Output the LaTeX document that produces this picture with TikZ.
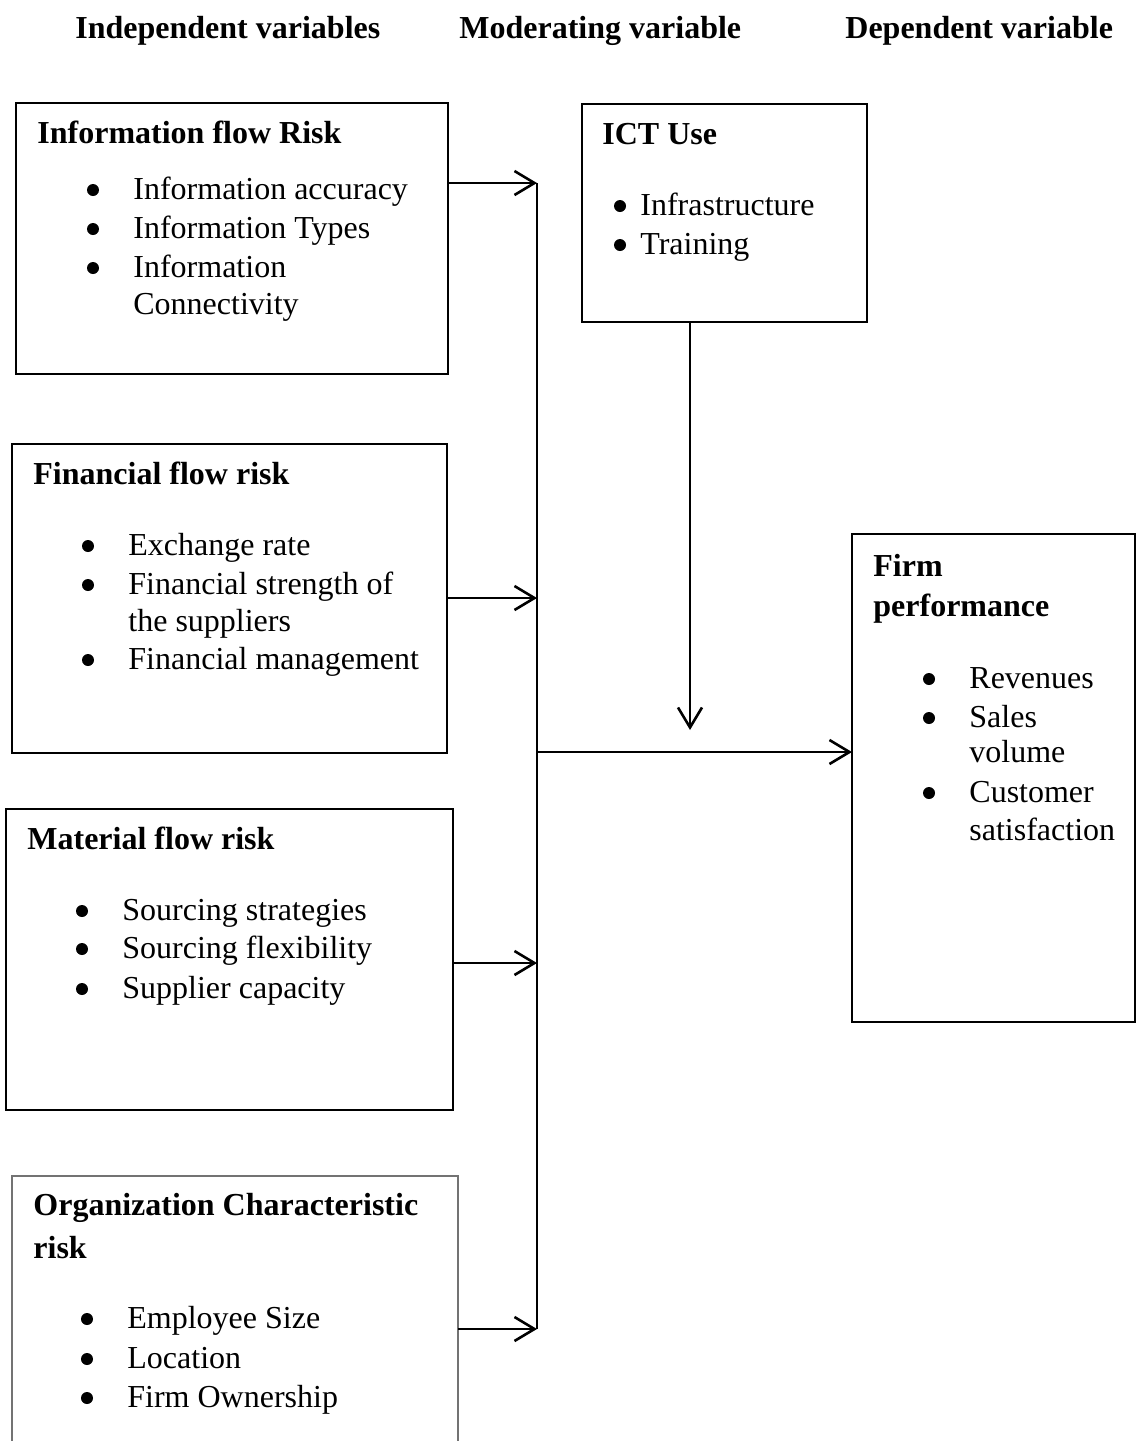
\documentclass[tikz,border=0pt]{standalone}
\usepackage{fontspec}
\setmainfont{Liberation Serif}
\usetikzlibrary{arrows.meta,fit}
\begin{document}
\begin{tikzpicture}[x=0.5pt,y=-0.5pt,
  box/.style={draw, line width=1pt, inner sep=0pt, outer sep=0pt},
  orgbox/.style={draw=black!55, line width=0.8pt, inner sep=0pt, outer sep=0pt},
  txt/.style={anchor=base west, inner sep=0pt, font=\fontsize{16}{19}\selectfont},
  ttl/.style={anchor=base west, inner sep=0pt, font=\fontsize{16}{19}\selectfont\bfseries},
  bul/.style={circle, fill=black, inner sep=0pt, minimum size=6pt, yshift=4.5pt},
  arr/.style={line width=1.3pt, -{Straight Barb[length=10pt,width=12pt,line width=1.3pt]}},
  bus/.style={line width=1.3pt}]
\useasboundingbox (0,0) rectangle (1136,1441);

% headers
\node[ttl] (h1) at (75,38) {Independent variables};
\node[ttl] (h2) at (459,38) {Moderating variable};
\node[ttl] (h3) at (845,38) {Dependent variable};

% boxes
\node[box, fit={(16,103) (448,374)}] (info) {};
\node[box, fit={(582,104) (867,322)}] (ict) {};
\node[box, fit={(12,444) (447,753)}] (fin) {};
\node[box, fit={(852,534) (1134.5,1022)}] (firm) {};
\node[box, fit={(6,809) (453,1110)}] (mat) {};
\node[orgbox, fit={(12,1176) (458,1520)}] (org) {};

% Information flow risk
\node[ttl] (infot) at (37,143) {Information flow Risk};
\node[bul] (infob1) at (93,199) {};
\node[txt] (infoi1) at (133,199) {Information accuracy};
\node[bul] (infob2) at (93,238) {};
\node[txt] (infoi2) at (133,238) {Information Types};
\node[bul] (infob3) at (93,277) {};
\node[txt] (infoi3) at (133,277) {Information};
\node[txt] (infoi3b) at (133,314) {Connectivity};

% ICT use
\node[ttl] (ictt) at (602,144) {ICT Use};
\node[bul] (ictb1) at (620,215) {};
\node[txt] (icti1) at (640,215) {Infrastructure};
\node[bul] (ictb2) at (620,254) {};
\node[txt] (icti2) at (640,254) {Training};

% Financial flow risk
\node[ttl] (fint) at (33,484) {Financial flow risk};
\node[bul] (finb1) at (88,555) {};
\node[txt] (fini1) at (128,555) {Exchange rate};
\node[bul] (finb2) at (88,594) {};
\node[txt] (fini2) at (128,594) {Financial strength of};
\node[txt] (fini2b) at (128,631) {the suppliers};
\node[bul] (finb3) at (88,669) {};
\node[txt] (fini3) at (128,669) {Financial management};

% Firm performance
\node[ttl] (firmt1) at (873,576) {Firm};
\node[ttl] (firmt2) at (873,616) {performance};
\node[bul] (firmb1) at (929,688) {};
\node[txt] (firmi1) at (969,688) {Revenues};
\node[bul] (firmb2) at (929,727) {};
\node[txt] (firmi2) at (969,727) {Sales};
\node[txt] (firmi2b) at (969,762) {volume};
\node[bul] (firmb3) at (929,802) {};
\node[txt] (firmi3) at (969,802) {Customer};
\node[txt] (firmi3b) at (969,840) {satisfaction};

% Material flow risk
\node[ttl] (matt) at (27,849) {Material flow risk};
\node[bul] (matb1) at (82,920) {};
\node[txt] (mati1) at (122,920) {Sourcing strategies};
\node[bul] (matb2) at (82,958) {};
\node[txt] (mati2) at (122,958) {Sourcing flexibility};
\node[bul] (matb3) at (82,998) {};
\node[txt] (mati3) at (122,998) {Supplier capacity};

% Organization characteristic risk
\node[ttl] (orgt1) at (33,1215) {Organization Characteristic};
\node[ttl] (orgt2) at (33,1258) {risk};
\node[bul] (orgb1) at (87,1328) {};
\node[txt] (orgi1) at (127,1328) {Employee Size};
\node[bul] (orgb2) at (87,1368) {};
\node[txt] (orgi2) at (127,1368) {Location};
\node[bul] (orgb3) at (87,1407) {};
\node[txt] (orgi3) at (127,1407) {Firm Ownership};

% connectors
\coordinate (b1) at (537,183);
\coordinate (b2) at (537,598);
\coordinate (b3) at (537,963);
\coordinate (b4) at (537,1329);
\coordinate (bm) at (537,752);
\coordinate (ictend) at (690,730);

\draw[bus] (b1) -- (b4);
\draw[arr] (info.east |- b1) -- (b1);
\draw[arr] (fin.east |- b2) -- (b2);
\draw[arr] (mat.east |- b3) -- (b3);
\draw[arr] (org.east |- b4) -- (b4);
\draw[arr] (ict.south -| ictend) -- (ictend);
\draw[arr] (bm) -- (firm.west |- bm);
\end{tikzpicture}
\end{document}
